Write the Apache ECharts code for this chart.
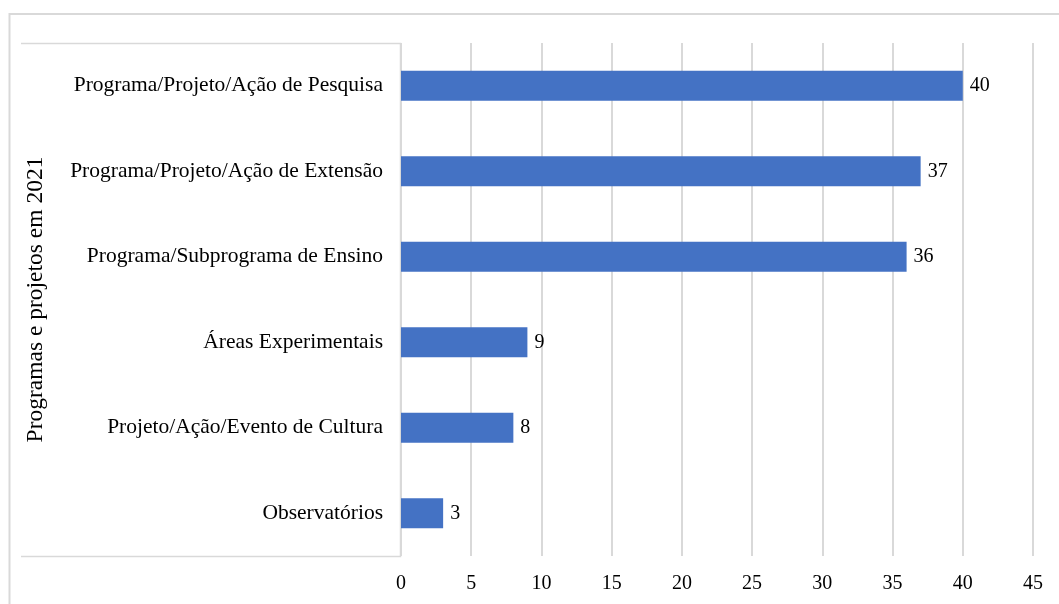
<!DOCTYPE html>
<html>
<head>
<meta charset="utf-8">
<script src="https://cdn.jsdelivr.net/npm/echarts@6/dist/echarts.min.js"></script>
<style>
html,body{margin:0;padding:0;background:#fff;}
#chart{width:1059px;height:604px;}
</style>
</head>
<body>
<div id="chart"></div>
<script>
const categories = [
  "Programa/Projeto/Ação de Pesquisa",
  "Programa/Projeto/Ação de Extensão",
  "Programa/Subprograma de Ensino",
  "Áreas Experimentais",
  "Projeto/Ação/Evento de Cultura",
  "Observatórios"
];
const values = [40, 37, 36, 9, 8, 3];
const axisName = "Programas e projetos em 2021";
const xMin = 0, xMax = 45, xStep = 5;

const FONT = "'Liberation Serif', 'Times New Roman', serif";
const chart = echarts.init(document.getElementById('chart'));
chart.setOption({
  animation: false,
  backgroundColor: '#ffffff',
  grid: {left: 401, right: 26, top: 43, bottom: 48, containLabel: false},
  xAxis: {
    type: 'value', min: xMin, max: xMax, interval: xStep,
    axisLine: {show: false}, axisTick: {show: false},
    splitLine: {show: true, lineStyle: {color: '#d9d9d9', width: 2}},
    axisLabel: {color: '#000', fontFamily: FONT, fontSize: 20, margin: 18}
  },
  yAxis: {
    type: 'category', data: categories, inverse: true,
    axisLine: {show: false}, axisTick: {show: false},
    axisLabel: {color: '#000', fontFamily: FONT, fontSize: 21.5, margin: 18},
    name: axisName, nameLocation: 'middle', nameRotate: 90, nameGap: 353,
    nameTextStyle: {color: '#000', fontFamily: FONT, fontSize: 23.5}
  },
  series: [{
    type: 'bar', data: values, barWidth: 30,
    itemStyle: {color: '#4472c4'},
    label: {show: true, position: 'right', distance: 7, color: '#000', fontFamily: FONT, fontSize: 20}
  }],
  graphic: [
    {type: 'polyline', shape: {points: [[9.5, 604], [9.5, 14], [1059, 14]]}, style: {stroke: '#d9d9d9', lineWidth: 2, fill: null}, silent: true},
    {type: 'polyline', shape: {points: [[21, 43.5], [400.5, 43.5], [400.5, 556.5], [21, 556.5]]}, style: {stroke: '#d9d9d9', lineWidth: 1.5, fill: null}, silent: true}
  ]
});
</script>
</body>
</html>
